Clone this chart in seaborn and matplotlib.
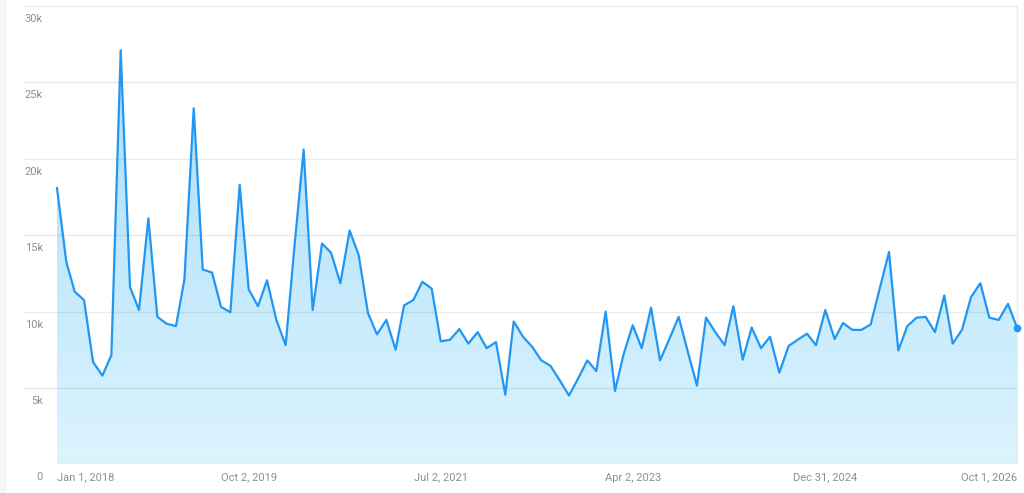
import matplotlib
matplotlib.use("Agg")
import matplotlib.pyplot as plt
import matplotlib.dates as mdates
from matplotlib.colors import LinearSegmentedColormap
from matplotlib.patches import Rectangle
import numpy as np
import pandas as pd
import seaborn as sns

# monthly values, Jan 2018 .. Oct 2026
months = pd.date_range("2018-01-01", "2026-10-01", freq="MS")
values = [
    18100, 13250, 11300, 10750, 6700, 5800, 7150, 27100, 11600, 10100,
    16100, 9650, 9200, 9050, 12100, 23300, 12750, 12550, 10300, 9950,
    18300, 11450, 10350, 12050, 9450, 7800, 14200, 20600, 10100, 14450,
    13850, 11850, 15300, 13700, 9900, 8500, 9450, 7500, 10400, 10750,
    11950, 11500, 8050, 8150, 8850, 7900, 8650, 7600, 8000, 4550,
    9350, 8350, 7700, 6800, 6450, 5500, 4500, 5600, 6800, 6100,
    10000, 4800, 7150, 9100, 7600, 10250, 6800, 8200, 9650, 7400,
    5150, 9600, 8650, 7800, 10350, 6850, 8950, 7600, 8350, 6000,
    7750, 8150, 8550, 7800, 10100, 8200, 9250, 8800, 8800, 9150,
    11500, 13900, 7450, 9050, 9600, 9650, 8650, 11050, 7900, 8800,
    10950, 11850, 9600, 9450, 10500, 8950,
]
y_ticks = [0, 5000, 10000, 15000, 20000, 25000, 30000]
y_labels = ["0", "5k", "10k", "15k", "20k", "25k", "30k"]
x_ticks = pd.to_datetime(["2018-01-01", "2019-10-02", "2021-07-02",
                          "2023-04-02", "2024-12-31", "2026-10-01"])
x_labels = ["Jan 1, 2018", "Oct 2, 2019", "Jul 2, 2021",
            "Apr 2, 2023", "Dec 31, 2024", "Oct 1, 2026"]

df = pd.DataFrame({"date": months, "value": values})

LINE = "#2196f3"
TEXT = "#8f8f8f"

sns.set_style("white")
plt.rcParams["font.family"] = ["Roboto", "DejaVu Sans"]

W, H = 1024, 493
fig = plt.figure(figsize=(W / 100, H / 100), dpi=100)
ax = fig.add_axes([24 / W, (H - 464.3) / H, (1017 - 24) / W, (464.3 - 6) / H])

# light page strip on the far left
fig.patches.append(Rectangle((0, 0), 7 / W, 1, transform=fig.transFigure,
                             facecolor="#f6f6f6", edgecolor="none"))

# gradient area under the line
poly = ax.fill_between(df["date"], df["value"], 0, facecolor="none",
                       edgecolor="none", zorder=1)
cmap = LinearSegmentedColormap.from_list("area", ["#dcf4fe", "#a3dbfa"])
x0 = mdates.date2num(df["date"].iloc[0])
x1 = mdates.date2num(df["date"].iloc[-1])
grad = np.linspace(0, 1, 256).reshape(-1, 1)
im = ax.imshow(grad, cmap=cmap, origin="lower", aspect="auto",
               extent=[x0, x1, 0, 30000], zorder=1)
im.set_clip_path(poly.get_paths()[0], transform=ax.transData)

sns.lineplot(data=df, x="date", y="value", color=LINE, linewidth=1.6,
             ax=ax, zorder=4)
ax.plot(df["date"].iloc[-1], df["value"].iloc[-1], "o", color=LINE,
        markersize=4.5, zorder=5, clip_on=False)

# x range: data starts 33 px in from the gridline start
span = (df["date"].iloc[-1] - df["date"].iloc[0])
left = df["date"].iloc[0] - span * (33 / 960)
ax.set_xlim(left, df["date"].iloc[-1])
ax.set_ylim(0, 30000)

ax.set_axisbelow(False)
ax.set_yticks(y_ticks)
ax.set_yticklabels([])
ax.yaxis.grid(True, color="#000000", alpha=0.08, linewidth=1)
ax.xaxis.grid(False)

ax.set_xticks(x_ticks)
ax.set_xticklabels(x_labels, fontsize=8, color=TEXT)
ax.tick_params(axis="both", length=0)
ax.tick_params(axis="x", pad=6)
tl = ax.get_xticklabels()
tl[0].set_horizontalalignment("left")
tl[-1].set_horizontalalignment("right")

for v, lab in zip(y_ticks, y_labels):
    ax.annotate(lab, xy=(19 / 993, v), xycoords=("axes fraction", "data"),
                xytext=(0, -13), textcoords="offset pixels",
                ha="right", va="center", fontsize=8, color=TEXT)

ax.set_xlabel("")
ax.set_ylabel("")
for side in ["left", "top", "bottom"]:
    ax.spines[side].set_visible(False)
ax.spines["right"].set_color("#ececec")
ax.spines["right"].set_linewidth(1)

fig.savefig("out.png", dpi=100)
